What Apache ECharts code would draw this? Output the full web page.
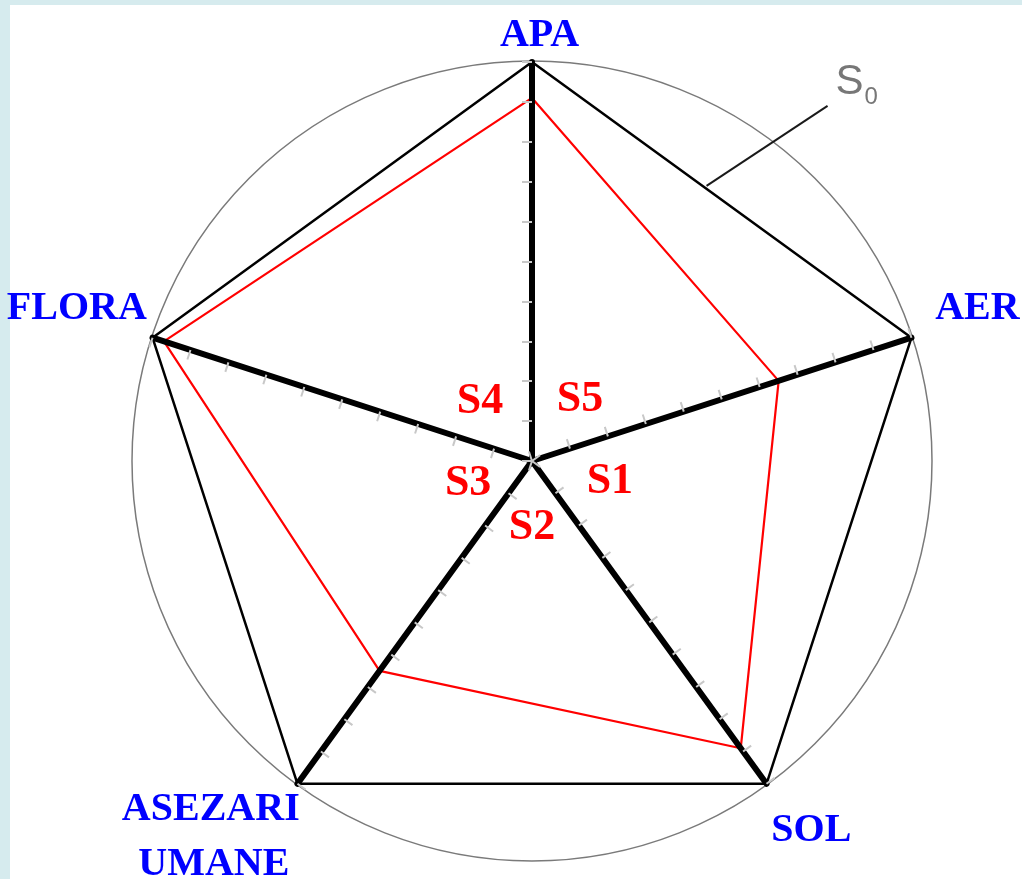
<!DOCTYPE html>
<html>
<head>
<meta charset="utf-8">
<script src="https://cdn.jsdelivr.net/npm/echarts@6/dist/echarts.min.js"></script>
<style>
  html, body { margin: 0; padding: 0; }
  body { width: 1022px; height: 879px; background: #d6ebee; position: relative; overflow: hidden; }
  #paper { position: absolute; left: 10px; top: 5px; right: 0; bottom: 0; background: #ffffff; }
  #chart { position: absolute; left: 0; top: 0; width: 1022px; height: 879px; }
</style>
</head>
<body>
<div id="paper"></div>
<div id="chart"></div>
<script>
// ---- data ----
const indicatorNames = ['APA', 'FLORA', 'ASEZARI\nUMANE', 'SOL', 'AER'];
const indicatorMax = [10, 10, 10, 10, 10];
const idealValues = [10, 10, 10, 10, 10];          // S0 - ideal state
const actualValues = [9.1, 9.7, 6.5, 8.9, 6.5];    // real state (red)
const sectorNames = ['S5', 'S4', 'S3', 'S2', 'S1'];
const tickSplits = 10;

// ---- layout ----
const CENTER = [532, 461];
const RADIUS = 399;
const START = 90;

const nameStyleKeys = { 'APA': 'apa', 'FLORA': 'flora', 'ASEZARI\nUMANE': 'asz', 'SOL': 'sol', 'AER': 'aer' };
const sectorStyleKeys = { 'S5': 's5', 'S4': 's4', 'S3': 's3', 'S2': 's2', 'S1': 's1' };

const nameFont = { fontFamily: '"Liberation Serif", "DejaVu Serif", serif', fontWeight: 'bold', fontSize: 40, color: '#0000ff' };
const sFont = { fontFamily: '"Liberation Serif", "DejaVu Serif", serif', fontWeight: 'bold', fontSize: 44, color: '#ff0000' };

function pt(idx, v) {
  const a = (START + idx * 360 / indicatorNames.length) * Math.PI / 180;
  const r = RADIUS * v / indicatorMax[idx];
  return [CENTER[0] + r * Math.cos(a), CENTER[1] - r * Math.sin(a)];
}
const pA = pt(0, idealValues[0]);
const pE = pt(4, idealValues[4]);
const t = 0.46;
const lead0 = [pA[0] + t * (pE[0] - pA[0]), pA[1] + t * (pE[1] - pA[1]) - 3];
const lead1 = [lead0[0] + 121, lead0[1] - 80];

const chart = echarts.init(document.getElementById('chart'), null, { renderer: 'canvas' });

const option = {
  backgroundColor: 'transparent',
  animation: false,
  radar: [
    { // circumscribed circle
      center: CENTER, radius: 400, startAngle: START, shape: 'circle', splitNumber: 1,
      indicator: indicatorNames.map((n, i) => ({ name: n, max: indicatorMax[i] })),
      axisName: { show: false },
      axisLine: { show: false }, axisTick: { show: false }, axisLabel: { show: false },
      splitArea: { show: false },
      splitLine: { show: true, lineStyle: { color: '#7a7a7a', width: 1.5 } }
    },
    { // main axes
      z: 3,
      center: CENTER, radius: RADIUS, startAngle: START, shape: 'polygon', splitNumber: tickSplits,
      indicator: indicatorNames.map((n, i) => ({ name: n, max: indicatorMax[i] })),
      nameGap: -14,
      axisName: {
        show: true,
        ...nameFont,
        formatter: function (name) {
          const key = nameStyleKeys[name];
          return name.split('\n').map((l, i) => '{' + key + i + '|' + l + '}').join('\n');
        },
        rich: {
          apa0: { ...nameFont, padding: [0, 0, 20, 15] },
          aer0: { ...nameFont, padding: [0, 0, 66, 37] },
          sol0: { ...nameFont, padding: [117, 0, 0, 13] },
          flora0: { ...nameFont, padding: [0, 19, 66, 0] },
          asz0: { ...nameFont, padding: [130, 6, 0, 0], align: 'center' },
          asz1: { ...nameFont, padding: [15, 0, 0, 0], align: 'center' }
        }
      },
      axisLine: { show: true, lineStyle: { color: '#000000', width: 6 } },
      axisTick: { show: true, length: 10, lineStyle: { color: '#c8c8c8', width: 2 } },
      axisLabel: { show: false },
      splitArea: { show: false },
      splitLine: { show: false }
    },
    { // sector labels S1..S5
      center: CENTER, radius: 60, startAngle: 54, splitNumber: 1,
      indicator: sectorNames.map((n) => ({ name: n, max: 10 })),
      nameGap: 14,
      axisName: {
        show: true,
        ...sFont,
        align: 'center',
        verticalAlign: 'middle',
        formatter: function (name) { return '{' + sectorStyleKeys[name] + '|' + name + '}'; },
        rich: {
          s5: { ...sFont, padding: [0, 0, 2, 9] },
          s4: { ...sFont, padding: [2, 17, 0, 0] },
          s3: { ...sFont, padding: [0, 0, 0, 13] },
          s2: { ...sFont, padding: [0, 0, 14, 0] },
          s1: { ...sFont, padding: [0, 0, 4, 15] }
        }
      },
      axisLine: { show: false }, axisTick: { show: false }, axisLabel: { show: false },
      splitArea: { show: false }, splitLine: { show: false }
    }
  ],
  series: [
    {
      type: 'radar',
      radarIndex: 1,
      z: 2,
      symbol: 'none',
      data: [
        { name: 'S0', value: idealValues, lineStyle: { color: '#000000', width: 2.5 } },
        { name: 'real', value: actualValues, lineStyle: { color: '#ff0000', width: 2.2 } }
      ]
    }
  ],
  graphic: [
    {
      type: 'line',
      z: 10,
      shape: { x1: lead0[0], y1: lead0[1], x2: lead1[0], y2: lead1[1] },
      style: { stroke: '#1a1a1a', lineWidth: 2 }
    },
    {
      type: 'text',
      z: 10,
      x: lead1[0] + 8,
      y: lead1[1] - 23,
      style: {
        text: '{s|S}{b|0}',
        align: 'left',
        verticalAlign: 'middle',
        rich: {
          s: { fontFamily: '"Liberation Sans Narrow", "Liberation Sans", Arial, sans-serif', fontSize: 42, fill: '#777777', color: '#777777' },
          b: { fontFamily: '"Liberation Sans Narrow", "Liberation Sans", Arial, sans-serif', fontSize: 24, fill: '#777777', color: '#777777', padding: [30, 0, 0, 1] }
        }
      }
    }
  ]
};

chart.setOption(option);
</script>
</body>
</html>
